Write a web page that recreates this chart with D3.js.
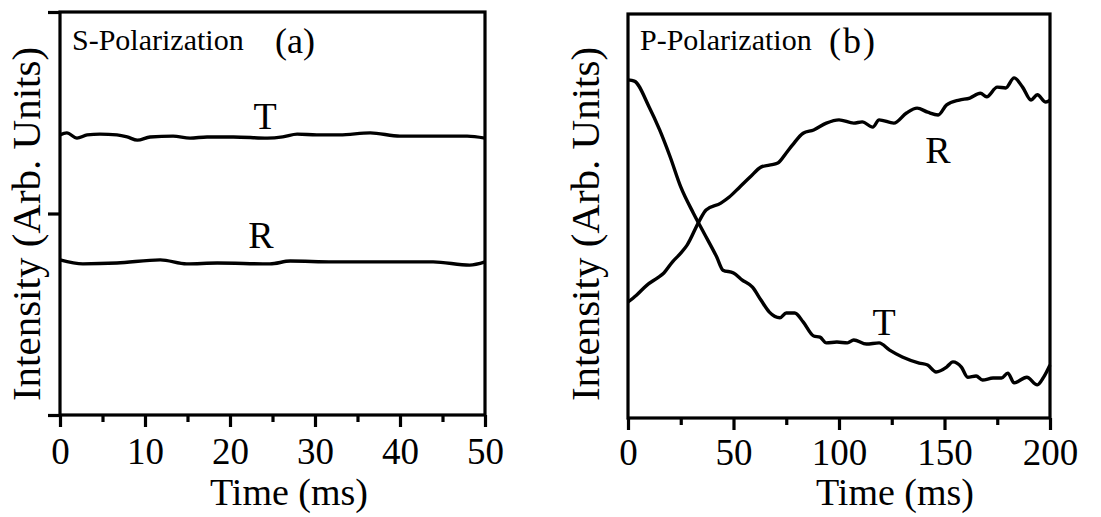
<!DOCTYPE html>
<html>
<head>
<meta charset="utf-8">
<script src="https://cdn.jsdelivr.net/npm/d3@7"></script>
<style>
  body { margin: 0; background: #fff; }
  svg { display: block; font-family: 'Liberation Serif', 'Times New Roman', serif; }
  .axis path { display: none; }
  .axis line { stroke: #000; stroke-width: 3.2; }
  .axis text { font-family: 'Liberation Serif', 'Times New Roman', serif; font-size: 37px; fill: #000; }
</style>
</head>
<body>
<svg id="chart" width="1101" height="517"></svg>
<script>
// panel (a) : S-polarization, time in ms
const sTimeT = [0, 0.8, 2, 3.2, 4.7, 6.7, 7.9, 9.1, 10.6, 13.3, 15.3, 17.3, 20.4, 24.4, 26.2, 27.9, 30.2, 32.9, 36.5, 40, 43.9, 47.9, 50]
const sValT = [69.5, 70, 68.7, 69.5, 69.7, 69.5, 69, 68.2, 69, 69.2, 68.7, 69, 69, 68.7, 69, 69.7, 69.5, 69.5, 70, 69.2, 69.2, 69.2, 68.7]
const sTimeR = [0, 2.7, 6.7, 11.8, 14.9, 18.5, 24.7, 27.1, 32.1, 40, 43.9, 48.2, 50]
const sValR = [38.5, 37.5, 37.7, 38.5, 37.5, 37.7, 37.5, 38.2, 38, 38, 38, 37.2, 38]

// panel (b) : P-polarization
const pTimeT = [0, 3, 10, 15, 20, 25, 31, 36, 42, 45, 50, 54, 59, 63, 67, 72, 75, 79, 83, 88, 91, 94, 99, 104, 107, 113, 119, 124, 130, 138, 142, 146, 151, 154, 158, 161, 165, 168, 173, 177, 180, 183, 189, 194, 197, 200]
const pValT = [83.7, 83.4, 77, 71.3, 64.6, 57.2, 50.7, 45.8, 39.9, 36.6, 35.9, 34.2, 32.4, 29.2, 26.2, 24.8, 26, 26, 23.8, 20.3, 20, 18.6, 18.8, 18.6, 19.3, 18.3, 18.6, 16.8, 15.1, 13.6, 13.1, 11.4, 12.6, 13.9, 12.6, 10.1, 10.4, 9.4, 9.9, 9.9, 11.1, 8.7, 10.1, 8.2, 10.1, 13.1]
const pTimeR = [0, 4, 9, 14, 17, 21, 25, 28, 34, 37, 44, 48, 53, 58, 63, 67, 71, 75, 78, 83, 88, 94, 100, 107, 111, 116, 119, 126, 132, 137, 142, 147, 151, 157, 162, 167, 170, 175, 179, 183, 187, 191, 194, 198, 200]
const pValR = [28.7, 30.4, 32.9, 34.7, 35.9, 38.6, 40.8, 42.8, 49, 51.5, 53.2, 54.7, 57.2, 59.7, 62.1, 62.6, 63.1, 65.6, 67.6, 70.5, 71.3, 73, 73.8, 73, 73.3, 72, 73.8, 73, 75.5, 76.7, 75.7, 75, 77.5, 78.7, 79.2, 80.4, 79.5, 81.9, 81.7, 84.2, 81.9, 78.7, 80, 78.2, 78.7]

const sMajorTicks = [0, 10, 20, 30, 40, 50]
const sMinorTicks = [5, 15, 25, 35, 45]
const pMajorTicks = [0, 50, 100, 150, 200]
const pMinorTicks = [25, 75, 125, 175]
const sYTicks = [0, 50, 100]

const svg = d3.select('#chart')

const zip = (ts, vs) => ts.map((t, i) => ({ t: t, v: vs[i] }))

const drawPanel = cfg => {
  const x = d3.scaleLinear().domain(cfg.xDomain).range([cfg.left, cfg.right])
  const y = d3.scaleLinear().domain([0, 100]).range([cfg.bottom, cfg.top])
  const g = svg.append('g')

  // minor ticks first, then major
  g.append('g')
    .attr('class', 'axis')
    .attr('transform', 'translate(0,' + cfg.bottom + ')')
    .call(d3.axisBottom(x).tickValues(cfg.minor).tickSize(7).tickFormat(''))

  g.append('g')
    .attr('class', 'axis')
    .attr('transform', 'translate(0,' + cfg.bottom + ')')
    .call(d3.axisBottom(x).tickValues(cfg.major).tickSize(12).tickFormat(d3.format('d')))
    .attr('font-family', null)
    .selectAll('text').attr('dy', null).attr('y', cfg.labelY - cfg.bottom)

  if (cfg.yTicks) {
    g.append('g')
      .attr('class', 'axis')
      .attr('transform', 'translate(' + cfg.left + ',0)')
      .call(d3.axisLeft(y).tickValues(cfg.yTicks).tickSize(12).tickFormat(''))
  }

  // frame
  g.append('rect')
    .attr('x', cfg.left)
    .attr('y', cfg.top)
    .attr('width', cfg.right - cfg.left)
    .attr('height', cfg.bottom - cfg.top)
    .attr('fill', 'none')
    .attr('stroke', '#000')
    .attr('stroke-width', 3.2)

  const line = d3.line()
    .x(d => x(d.t))
    .y(d => y(d.v))
    .curve(d3.curveMonotoneX)

  cfg.series.forEach(s => {
    g.append('path')
      .datum(s)
      .attr('d', line)
      .attr('fill', 'none')
      .attr('stroke', '#000')
      .attr('stroke-width', 3.4)
      .attr('stroke-linejoin', 'round')
  })

  cfg.curveLabels.forEach(l => {
    g.append('text')
      .attr('x', l.x)
      .attr('y', l.y)
      .attr('text-anchor', 'middle')
      .style('font-size', '38px')
      .text(l.text)
  })

  g.append('text')
    .attr('x', cfg.left + 12)
    .attr('y', 50)
    .style('font-size', '30px')
    .text(cfg.title)

  g.append('text')
    .attr('x', cfg.tagX)
    .attr('y', 53)
    .style('font-size', '36px')
    .style('letter-spacing', cfg.tagSpacing)
    .text(cfg.tag)

  g.append('text')
    .attr('x', cfg.xTitleX)
    .attr('y', 505)
    .attr('text-anchor', 'middle')
    .style('font-size', '38px')
    .text('Time (ms)')

  g.append('text')
    .attr('transform', 'translate(' + cfg.yTitleX + ',224) rotate(-90)')
    .attr('text-anchor', 'middle')
    .style('font-size', '41px')
    .text('Intensity (Arb. Units)')
}

drawPanel({
  left: 60, right: 485, top: 12, bottom: 415,
  xDomain: [0, 50], major: sMajorTicks, minor: sMinorTicks, yTicks: sYTicks,
  labelY: 464,
  series: [zip(sTimeT, sValT), zip(sTimeR, sValR)],
  curveLabels: [{ text: 'T', x: 265, y: 129 }, { text: 'R', x: 261, y: 248 }],
  title: 'S-Polarization', tag: '(a)', tagX: 275, tagSpacing: '0px',
  xTitleX: 289, yTitleX: 40
})

drawPanel({
  left: 628, right: 1050, top: 14, bottom: 418,
  xDomain: [0, 200], major: pMajorTicks, minor: pMinorTicks, yTicks: null,
  labelY: 465,
  series: [zip(pTimeT, pValT), zip(pTimeR, pValR)],
  curveLabels: [{ text: 'R', x: 938, y: 163 }, { text: 'T', x: 884, y: 335 }],
  title: 'P-Polarization', tag: '(b)', tagX: 829, tagSpacing: '2px',
  xTitleX: 895, yTitleX: 599
})
</script>
</body>
</html>
